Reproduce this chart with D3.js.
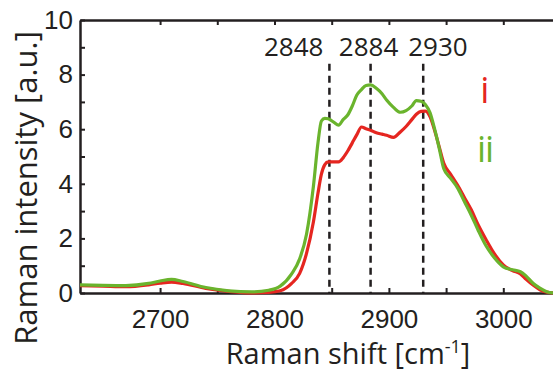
<!DOCTYPE html>
<html>
<head>
<meta charset="utf-8">
<script src="https://cdn.jsdelivr.net/npm/d3@7"></script>
<style>
  html, body { margin: 0; padding: 0; background: #fff; }
  svg { display: block; font-family: "Open Sans", "Noto Sans", sans-serif; }
</style>
</head>
<body>
<svg id="chart" width="553" height="371"></svg>
<script>
// Raman shift grid [cm^-1] shared by both spectra
const wavenumber = [
  2630, 2650, 2670, 2690, 2700, 2710, 2720, 2740, 2760, 2780, 2795, 2805, 2815, 2822,
  2828, 2834, 2838, 2841, 2844, 2847, 2852, 2856, 2860, 2864, 2868, 2872, 2876, 2880,
  2884, 2889, 2894, 2898, 2904, 2910, 2915, 2920, 2924, 2928, 2932, 2936, 2940, 2944,
  2948, 2954, 2960, 2966, 2972, 2978, 2985, 2992, 3000, 3008, 3015, 3020, 3026, 3032,
  3038, 3044
];

// Spectrum i (red)
const intensityI = [
  0.27, 0.25, 0.23, 0.30, 0.36, 0.40, 0.35, 0.17, 0.06, 0.00, 0.02, 0.08, 0.35, 0.72,
  1.45, 2.60, 3.65, 4.35, 4.70, 4.80, 4.80, 4.80, 4.95, 5.20, 5.50, 5.80, 6.08, 6.02,
  5.96, 5.87, 5.82, 5.78, 5.70, 5.90, 6.10, 6.35, 6.55, 6.65, 6.66, 6.45, 5.95, 5.35,
  4.75, 4.35, 3.95, 3.50, 3.05, 2.50, 1.95, 1.45, 1.03, 0.82, 0.70, 0.50, 0.29, 0.12,
  0.03, 0.00
];

// Spectrum ii (green)
const intensityII = [
  0.30, 0.28, 0.27, 0.35, 0.44, 0.50, 0.42, 0.20, 0.08, 0.04, 0.10, 0.25, 0.70, 1.25,
  2.15, 3.90, 5.50, 6.30, 6.40, 6.38, 6.25, 6.15, 6.35, 6.52, 6.85, 7.25, 7.45, 7.60,
  7.62, 7.50, 7.30, 7.07, 6.80, 6.62, 6.68, 6.85, 7.05, 7.02, 6.90, 6.60, 6.00, 5.30,
  4.55, 4.20, 3.85, 3.35, 2.85, 2.30, 1.72, 1.30, 0.96, 0.85, 0.78, 0.62, 0.36, 0.18,
  0.05, 0.00
];

const seriesNames = ["i", "ii"];
const seriesColors = ["#e52620", "#6ab42d"];

// Marked band positions [cm^-1]
const peakPositions = [2848, 2884, 2930];

// Axis ticks
const xTickValues = [2700, 2750, 2800, 2850, 2900, 2950, 3000, 3050];
const xTickLabels = [2700, 2800, 2900, 3000];
const yTickValues = [0, 1, 2, 3, 4, 5, 6, 7, 8, 9, 10];
const yTickLabels = [0, 2, 4, 6, 8, 10];

const ink = "#231f20";
const svg = d3.select("#chart");

const x = d3.scaleLinear().domain([2630, 3050]).range([80, 560.5]);
const y = d3.scaleLinear().domain([0, 10]).range([293, 20]);

function styleAxis(g) {
  g.select(".domain").attr("stroke", ink).attr("stroke-width", 2.5);
  g.selectAll(".tick line").attr("stroke", ink).attr("stroke-width", 2);
  g.selectAll(".tick text").attr("fill", ink).attr("font-size", 26);
}

// Top frame with inward ticks
svg.append("g")
  .attr("transform", `translate(0,${y(10)})`)
  .call(d3.axisTop(x).tickValues(xTickValues).tickSize(-5).tickSizeOuter(0).tickFormat(""))
  .call(styleAxis);

// Bottom axis
svg.append("g")
  .attr("transform", `translate(0,${y(0)})`)
  .call(d3.axisBottom(x).tickValues(xTickValues).tickSize(-5).tickSizeOuter(0).tickPadding(17)
    .tickFormat(d => xTickLabels.includes(d) ? d : ""))
  .call(styleAxis);

// Left axis
svg.append("g")
  .attr("transform", `translate(${x(2630)},0)`)
  .call(d3.axisLeft(y).tickValues(yTickValues).tickSize(-5).tickSizeOuter(0).tickPadding(7)
    .tickFormat(d => yTickLabels.includes(d) ? d : ""))
  .call(styleAxis);

// Dashed markers at the band positions
const markerTop = 8.4;
svg.append("g").selectAll("line")
  .data(peakPositions)
  .join("line")
  .attr("x1", d => x(d)).attr("x2", d => x(d))
  .attr("y1", y(markerTop)).attr("y2", y(0))
  .attr("stroke", ink)
  .attr("stroke-width", 2.5)
  .attr("stroke-dasharray", "7,5");

// Band labels in a row above the markers
const labelAnchor = ["end", "middle", "start"];
const labelShift = [-6, -2, -15];
svg.append("g").selectAll("text")
  .data(peakPositions)
  .join("text")
  .attr("x", (d, i) => x(d) + labelShift[i])
  .attr("y", 55.7)
  .attr("text-anchor", (d, i) => labelAnchor[i])
  .attr("font-size", 26)
  .attr("fill", ink)
  .text(d => d);

// Spectra
const line = d3.line()
  .x(d => x(d[0]))
  .y(d => y(d[1]))
  .curve(d3.curveMonotoneX);

[intensityI, intensityII].forEach((vals, k) => {
  svg.append("path")
    .datum(wavenumber.map((w, i) => [w, vals[i]]))
    .attr("fill", "none")
    .attr("stroke", seriesColors[k])
    .attr("stroke-width", 3.2)
    .attr("stroke-linejoin", "round")
    .attr("d", line);
});

// Series labels
const seriesLabelPos = [[484.3, 102.7], [485, 161.7]];
svg.append("g").selectAll("text")
  .data(seriesNames)
  .join("text")
  .attr("x", (d, i) => seriesLabelPos[i][0])
  .attr("y", (d, i) => seriesLabelPos[i][1])
  .attr("text-anchor", "middle")
  .attr("font-size", 36)
  .attr("letter-spacing", -1)
  .attr("fill", (d, i) => seriesColors[i])
  .text(d => d);

// Axis titles
const xTitle = svg.append("text")
  .attr("x", 348)
  .attr("y", 364)
  .attr("text-anchor", "middle")
  .attr("font-size", 29)
  .attr("fill", ink);
xTitle.append("tspan").text("Raman shift [cm");
xTitle.append("tspan").attr("font-size", 18).attr("dy", -11).text("-1");
xTitle.append("tspan").attr("dy", 11).text("]");

svg.append("text")
  .attr("transform", "translate(37,188) rotate(-90)")
  .attr("text-anchor", "middle")
  .attr("font-size", 31)
  .attr("fill", ink)
  .text("Raman intensity [a.u.]");
</script>
</body>
</html>
